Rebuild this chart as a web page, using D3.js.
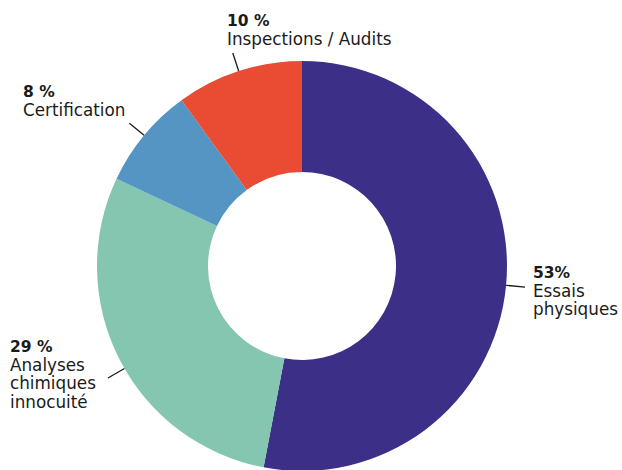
<!DOCTYPE html>
<html>
<head>
<meta charset="utf-8">
<script src="https://cdn.jsdelivr.net/npm/d3@7"></script>
<style>
  html, body { margin: 0; padding: 0; background: #ffffff; }
  svg { display: block; }
  text { font-family: "DejaVu Sans", "Open Sans", sans-serif; fill: #1a1a1a; }
</style>
</head>
<body>
<svg id="chart" width="622" height="470"></svg>
<script>
// ---- data ----
const categories = ["Essais physiques", "Analyses chimiques innocuité", "Certification", "Inspections / Audits"];
const values = [53, 29, 8, 10];
const valueLabels = ["53%", "29 %", "8 %", "10 %"];
const labelLines = [["Essais", "physiques"], ["Analyses", "chimiques", "innocuité"], ["Certification"], ["Inspections / Audits"]];
const colors = ["#3c2f87", "#85c6b0", "#5495c3", "#e94b33"];

// ---- layout ----
const cx = 302, cy = 266;
const outerR = 205, innerR = 94;
const leaderLen = 19;
// label anchor (left x, baseline of first line) and leader angle nudge (degrees)
const labelLayout = [
  { x: 533, y: 278, nudge: 0 },
  { x: 10,  y: 352, nudge: -3 },
  { x: 23,  y: 97,  nudge: 0 },
  { x: 227, y: 26,  nudge: 0 }
];
const lineGap = 18.6;

const svg = d3.select("#chart");
const g = svg.append("g").attr("transform", `translate(${cx},${cy})`);

const pie = d3.pie().sort(null).value(d => d)(values);
const arc = d3.arc().innerRadius(innerR).outerRadius(outerR);

g.selectAll("path.slice")
  .data(pie)
  .join("path")
  .attr("class", "slice")
  .attr("d", arc)
  .attr("fill", (d, i) => colors[i]);

// leader lines
g.selectAll("line.leader")
  .data(pie)
  .join("line")
  .attr("class", "leader")
  .each(function(d, i) {
    const a = (d.startAngle + d.endAngle) / 2 + labelLayout[i].nudge * Math.PI / 180;
    const r1 = outerR, r2 = outerR + leaderLen;
    d3.select(this)
      .attr("x1", r1 * Math.sin(a)).attr("y1", -r1 * Math.cos(a))
      .attr("x2", r2 * Math.sin(a)).attr("y2", -r2 * Math.cos(a));
  })
  .attr("stroke", "#1a1a1a")
  .attr("stroke-width", 1.3);

// labels: one text element per line
const rows = [];
pie.forEach((d, i) => {
  const L = labelLayout[i];
  rows.push({ x: L.x, y: L.y, text: valueLabels[i], bold: true });
  labelLines[i].forEach((s, k) => rows.push({ x: L.x, y: L.y + (k + 1) * lineGap, text: s, bold: false }));
});

svg.selectAll("text.lbl")
  .data(rows)
  .join("text")
  .attr("class", "lbl")
  .attr("x", d => d.x)
  .attr("y", d => d.y)
  .attr("font-weight", d => d.bold ? 700 : 400)
  .attr("font-size", d => d.bold ? 15.5 : 16.8)
  .text(d => d.text);
</script>
</body>
</html>
